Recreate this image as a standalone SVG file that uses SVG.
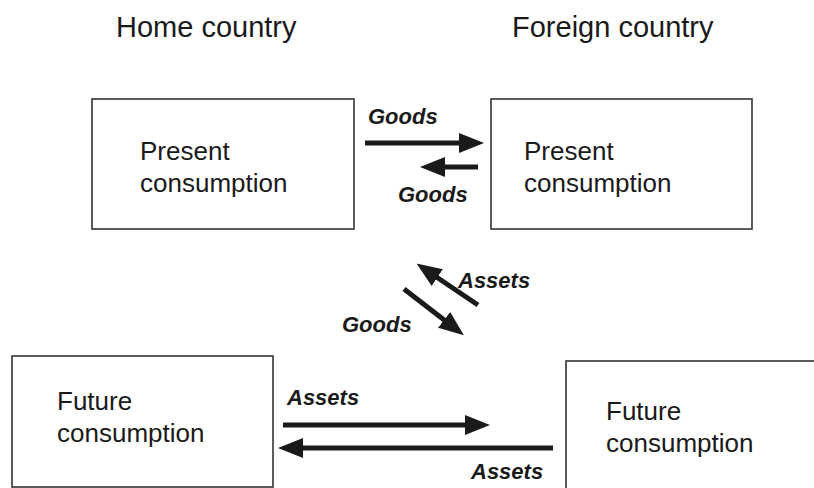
<svg xmlns="http://www.w3.org/2000/svg" width="814" height="488" viewBox="0 0 814 488">
<defs>
<marker id="ah" markerWidth="5" markerHeight="4" refX="2" refY="2" orient="auto" markerUnits="strokeWidth">
<path d="M0,0 L5,2 L0,4 Z" fill="#1a1a1a"/>
</marker>
<style>
.box{fill:#fff;stroke:#333;stroke-width:1.6}
.t{font-family:"Liberation Sans",Arial,sans-serif;font-size:26px;fill:#1a1a1a}
.h{font-family:"Liberation Sans",Arial,sans-serif;font-size:29px;fill:#1a1a1a}
.l{font-family:"Liberation Sans",Arial,sans-serif;font-size:22px;font-weight:bold;font-style:italic;fill:#1a1a1a}
.c{stroke:#1a1a1a;stroke-width:5;fill:none;marker-end:url(#ah)}
</style>
</defs>
<g id="headings">
<text class="h" x="116" y="37">Home country</text>
<text class="h" x="512" y="37">Foreign country</text>
</g>
<g id="home-present">
<rect class="box" x="92" y="99" width="262" height="130"/>
<text class="t" x="140" y="160">Present</text>
<text class="t" x="140" y="192">consumption</text>
</g>
<g id="foreign-present">
<rect class="box" x="491" y="99" width="261" height="130"/>
<text class="t" x="524" y="160">Present</text>
<text class="t" x="524" y="192">consumption</text>
</g>
<g id="home-future">
<rect class="box" x="12" y="356" width="261" height="131"/>
<text class="t" x="57" y="410">Future</text>
<text class="t" x="57" y="442">consumption</text>
</g>
<g id="foreign-future">
<rect class="box" x="566" y="361" width="260" height="140"/>
<text class="t" x="606" y="420">Future</text>
<text class="t" x="606" y="452">consumption</text>
</g>
<g id="connectors">
<line class="c" x1="365" y1="143" x2="469" y2="143"/>
<line class="c" x1="478" y1="167" x2="435" y2="167"/>
<line class="c" x1="478" y1="305" x2="429" y2="272"/>
<line class="c" x1="404" y1="289" x2="452" y2="326"/>
<line class="c" x1="283" y1="425" x2="475" y2="425"/>
<line class="c" x1="553" y1="448" x2="293" y2="448"/>
<text class="l" x="368" y="124">Goods</text>
<text class="l" x="398" y="202">Goods</text>
<text class="l" x="458" y="288">Assets</text>
<text class="l" x="342" y="332">Goods</text>
<text class="l" x="287" y="405">Assets</text>
<text class="l" x="471" y="479">Assets</text>
</g>
</svg>
